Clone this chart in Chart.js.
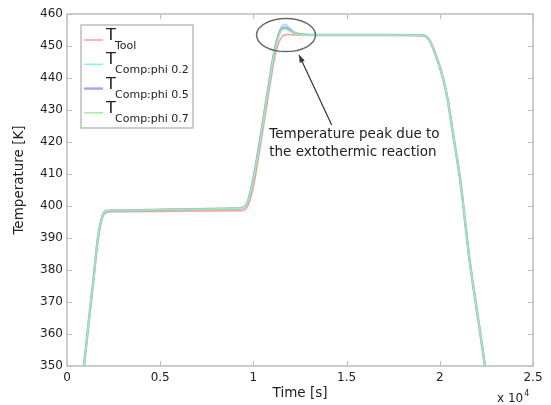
<!DOCTYPE html>
<html>
<head>
<meta charset="utf-8">
<script src="https://cdn.jsdelivr.net/npm/chart.js@4/dist/chart.umd.min.js"></script>
<style>
  html, body { margin: 0; padding: 0; background: #fff; }
</style>
</head>
<body>
<canvas id="grafico" width="551" height="405"></canvas>
<script>
// tempo em segundos (eixo x mostrado em x 10^4)
const tempos = [700, 910, 1150, 1400, 1660, 1880, 2050, 2400, 3000, 5000, 7000, 9000, 9400, 9700, 10000, 10300, 10600, 10900, 11100, 11300, 11500, 11700, 11900, 12200, 12700, 13200, 15000, 17000, 19100, 19400, 19600, 19850, 20100, 20400, 20750, 21100, 21600, 22000, 22300, 22600]

// temperaturas (K)
const tTool   = [339, 350, 363, 376, 389.5, 396, 397.8, 398.2, 398.2, 398.3, 398.4, 398.5, 398.6, 400, 406, 416, 427, 438, 445, 450, 452.6, 453.5, 453.6, 453.4, 453.4, 453.4, 453.4, 453.4, 453.3, 452.2, 450, 446, 441.5, 434, 421, 408, 383, 367, 355, 343]
const tComp02 = [339, 350, 363, 376, 390, 396.5, 398.3, 398.6, 398.6, 398.8, 399, 399.2, 399.4, 401.5, 409, 419, 430, 441, 448, 453, 456, 456.8, 455.8, 454.3, 453.6, 453.4, 453.4, 453.4, 453.3, 452.2, 450, 446, 441.5, 434, 421, 408, 383, 367, 355, 343]
const tComp05 = [339, 350, 363, 376, 390, 396.5, 398.3, 398.6, 398.6, 398.8, 399, 399.2, 399.4, 401.3, 408.5, 418.5, 429.5, 440.5, 447.5, 452.5, 455.3, 455.8, 455.2, 454, 453.6, 453.4, 453.4, 453.4, 453.3, 452.2, 450, 446, 441.5, 434, 421, 408, 383, 367, 355, 343]
const tComp07 = [339, 350, 363, 376, 390, 396.5, 398.3, 398.6, 398.6, 398.8, 399, 399.2, 399.4, 401.2, 408.2, 418, 429, 440, 447, 452, 454.8, 455.3, 454.8, 453.9, 453.5, 453.4, 453.4, 453.4, 453.3, 452.2, 450, 446, 441.5, 434, 421, 408, 383, 367, 355, 343]

const nomes = ['Tool', 'Comp:phi 0.2', 'Comp:phi 0.5', 'Comp:phi 0.7']
const cores = ['#f2a0a0', '#7ff0f0', '#a8a8ee', '#9ef09e']
const larguras = [1.5, 1.5, 2.5, 1.5]

const xMin = 0, xMax = 25000, xPasso = 5000
const yMin = 350, yMax = 460, yPasso = 10

const FONTE = '"DejaVu Sans", sans-serif'
const CINZA = '#bdbdbd'

const serie = vals => tempos.map((t, i) => ({ x: t, y: vals[i] }))
const todas = [tTool, tComp02, tComp05, tComp07]

// moldura estilo matlab com ticks para dentro
const moldura = {
  id: 'moldura',
  beforeDatasetsDraw(chart) {
    const { ctx, chartArea: a, scales } = chart
    ctx.save()
    ctx.strokeStyle = CINZA
    ctx.lineWidth = 1.5
    ctx.strokeRect(a.left, a.top, a.right - a.left, a.bottom - a.top)
    ctx.lineWidth = 1
    ctx.beginPath()
    scales.x.ticks.forEach(t => {
      const px = Math.round(scales.x.getPixelForValue(t.value)) + 0.5
      ctx.moveTo(px, a.bottom); ctx.lineTo(px, a.bottom - 5)
      ctx.moveTo(px, a.top); ctx.lineTo(px, a.top + 5)
    })
    scales.y.ticks.forEach(t => {
      const py = Math.round(scales.y.getPixelForValue(t.value)) + 0.5
      ctx.moveTo(a.left, py); ctx.lineTo(a.left + 5, py)
      ctx.moveTo(a.right, py); ctx.lineTo(a.right - 5, py)
    })
    ctx.stroke()
    ctx.restore()
  },
  afterDraw(chart) {
    const { ctx, chartArea: a } = chart
    ctx.save()
    // titulo do eixo y
    ctx.fillStyle = '#222'
    ctx.font = '13.5px ' + FONTE
    ctx.translate(19, 180)
    ctx.rotate(-Math.PI / 2)
    ctx.textAlign = 'center'
    ctx.textBaseline = 'middle'
    ctx.fillText('Temperature [K]', 0, 0)
    ctx.restore()
    // expoente x 10^4
    ctx.save()
    ctx.fillStyle = '#222'
    ctx.font = '12px ' + FONTE
    ctx.textBaseline = 'alphabetic'
    ctx.fillText('x 10', a.right - 36, 402)
    const w = ctx.measureText('x 10').width
    ctx.font = '8px ' + FONTE
    ctx.fillText('4', a.right - 36 + w + 1, 396)
    ctx.restore()
  }
}

// legenda com subscrito (chart.js nao faz isso sozinho)
const legenda = {
  id: 'legenda',
  afterDatasetsDraw(chart) {
    const { ctx, chartArea: a } = chart
    const bx = a.left + 14, by = a.top + 11, bw = 112, bh = 103
    ctx.save()
    ctx.fillStyle = '#fff'
    ctx.fillRect(bx, by, bw, bh)
    ctx.strokeStyle = CINZA
    ctx.lineWidth = 1.5
    ctx.strokeRect(bx, by, bw, bh)
    nomes.forEach((n, i) => {
      const yy = by + 15 + i * 24.3
      ctx.strokeStyle = cores[i]
      ctx.lineWidth = larguras[i]
      ctx.beginPath()
      ctx.moveTo(bx + 3, yy); ctx.lineTo(bx + 22, yy)
      ctx.stroke()
      ctx.fillStyle = '#222'
      ctx.font = '16px ' + FONTE
      ctx.textBaseline = 'alphabetic'
      ctx.fillText('T', bx + 25, yy)
      ctx.font = '11px ' + FONTE
      ctx.fillText(n, bx + 34, yy + 9)
    })
    ctx.restore()
  }
}

// elipse + seta + texto do pico
const picoElipse = { x: 11750, y: 453.4 }
const setaInicio = { x: 14200, y: 425.3 }
const setaFim = { x: 12450, y: 447.2 }
const textoPos = { x: 10850, y: 422.2 }
const textoLinhas = ['Temperature peak due to', 'the extothermic reaction']

const anotacao = {
  id: 'anotacao',
  afterDatasetsDraw(chart) {
    const { ctx, scales: { x, y } } = chart
    ctx.save()
    ctx.strokeStyle = '#6a6a6a'
    ctx.lineWidth = 1.5
    ctx.beginPath()
    ctx.ellipse(x.getPixelForValue(picoElipse.x), y.getPixelForValue(picoElipse.y), 29.5, 16.5, 0, 0, Math.PI * 2)
    ctx.stroke()

    const x0 = x.getPixelForValue(setaInicio.x), y0 = y.getPixelForValue(setaInicio.y)
    const x1 = x.getPixelForValue(setaFim.x), y1 = y.getPixelForValue(setaFim.y)
    ctx.strokeStyle = '#333'
    ctx.lineWidth = 1.2
    ctx.beginPath()
    ctx.moveTo(x0, y0); ctx.lineTo(x1, y1)
    ctx.stroke()
    const ang = Math.atan2(y1 - y0, x1 - x0)
    ctx.fillStyle = '#333'
    ctx.beginPath()
    ctx.moveTo(x1, y1)
    ctx.lineTo(x1 - 8 * Math.cos(ang - 0.35), y1 - 8 * Math.sin(ang - 0.35))
    ctx.lineTo(x1 - 8 * Math.cos(ang + 0.35), y1 - 8 * Math.sin(ang + 0.35))
    ctx.closePath()
    ctx.fill()

    ctx.fillStyle = '#222'
    ctx.font = '13.5px ' + FONTE
    ctx.textBaseline = 'middle'
    const tx = x.getPixelForValue(textoPos.x), ty = y.getPixelForValue(textoPos.y)
    textoLinhas.forEach((l, i) => ctx.fillText(l, tx, ty + i * 18))
    ctx.restore()
  }
}

new Chart(document.getElementById('grafico'), {
  type: 'line',
  data: {
    datasets: todas.map((vals, i) => ({
      label: nomes[i],
      data: serie(vals),
      borderColor: cores[i],
      borderWidth: larguras[i],
      pointRadius: 0,
      tension: 0.3,
      cubicInterpolationMode: 'monotone',
      fill: false,
      order: 3 - i
    }))
  },
  options: {
    responsive: false,
    animation: false,
    devicePixelRatio: 1,
    layout: { padding: { top: 14, right: 18, left: 0, bottom: 0 } },
    plugins: { legend: { display: false }, tooltip: { enabled: false } },
    scales: {
      x: {
        type: 'linear', min: xMin, max: xMax,
        grid: { display: false, drawTicks: false },
        border: { display: false },
        ticks: {
          stepSize: xPasso, maxRotation: 0, padding: 5, color: '#222',
          font: { family: FONTE, size: 12 },
          callback: v => String(v / 10000)
        },
        title: { display: true, text: 'Time [s]', color: '#222', font: { family: FONTE, size: 13.5 }, padding: { top: 0, bottom: 3 } },
        afterFit: s => { s.height = 39 }
      },
      y: {
        min: yMin, max: yMax,
        grid: { display: false, drawTicks: false },
        border: { display: false },
        ticks: { stepSize: yPasso, padding: 4, color: '#222', font: { family: FONTE, size: 12 } },
        afterFit: s => { s.width = 67 }
      }
    }
  },
  plugins: [moldura, anotacao, legenda]
})
</script>
</body>
</html>
